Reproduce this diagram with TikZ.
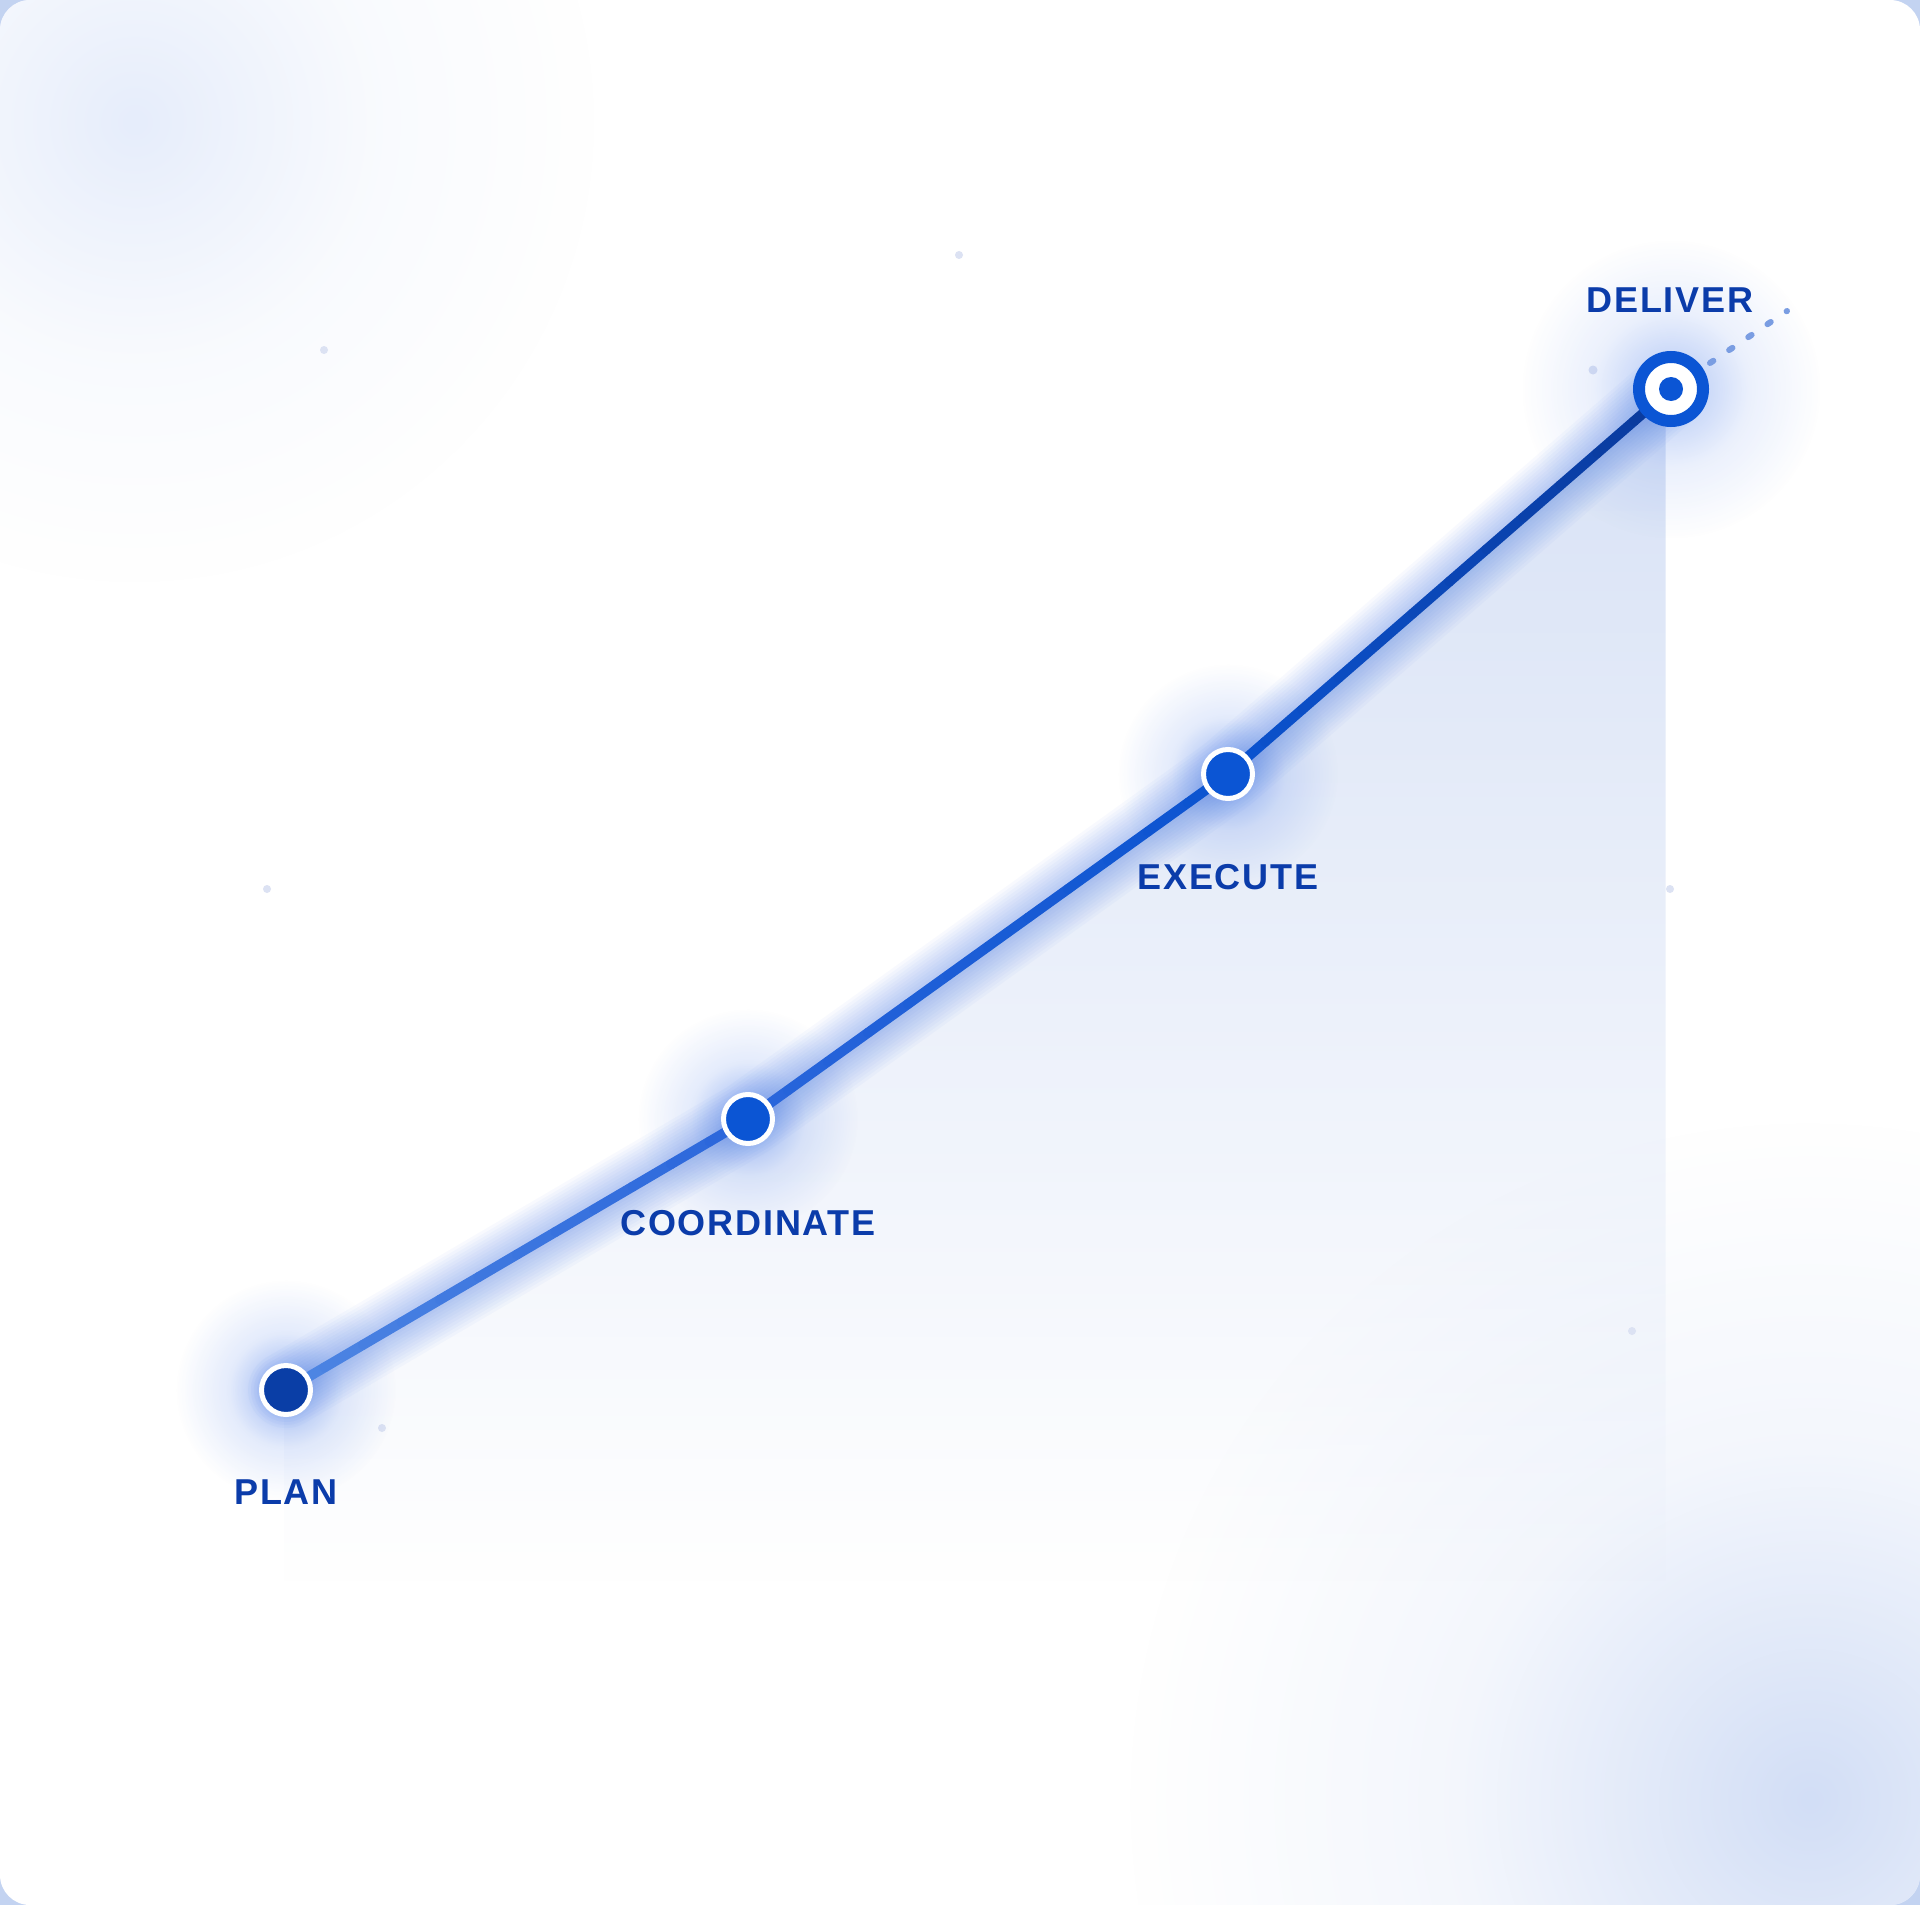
\documentclass[tikz,border=0pt]{standalone}
\usepackage{fontspec}
\newfontfamily\lblfont[LetterSpace=5]{Liberation Sans}
\usetikzlibrary{fadings,calc}
\definecolor{cornerbg}{HTML}{C3D3F1}
\definecolor{tlglow}{HTML}{E6EDFB}
\definecolor{brglow}{HTML}{D2DEF6}
\definecolor{areatop}{HTML}{D8E2F6}
\definecolor{glowblue}{HTML}{3A70E8}
\definecolor{nodeblue}{HTML}{0B55D4}
\definecolor{plannode}{HTML}{0A3EA6}
\definecolor{lblcol}{HTML}{0B3CAA}
\definecolor{dotcol}{HTML}{DCE2F3}
\definecolor{dashcol}{HTML}{7A9DE2}
\definecolor{cA}{HTML}{4F86E3}
\definecolor{cB}{HTML}{2A66DB}
\definecolor{cC}{HTML}{0B53D0}
\definecolor{cD}{HTML}{0A3A9C}
\pgfdeclareradialshading{softglowsh}{\pgfpointorigin}{color(0bp)=(pgftransparent!0); color(5bp)=(pgftransparent!30); color(13bp)=(pgftransparent!75); color(25bp)=(pgftransparent!100); color(50bp)=(pgftransparent!100)}
\pgfdeclarefading{softglow}{\pgfuseshading{softglowsh}}
\tikzset{
  station/.style={circle, fill=nodeblue, draw=white, line width=5, minimum size=49, inner sep=0},
  goalring/.style={circle, fill=white, draw=nodeblue, line width=12, minimum size=64, inner sep=0},
  goaldot/.style={circle, fill=nodeblue, minimum size=24, inner sep=0},
  lbl/.style={text=lblcol, font=\lblfont\bfseries\fontsize{36}{40}\selectfont, inner sep=0, anchor=center},
  speck/.style={fill=dotcol},
  nodeglow/.style={fill=glowblue, path fading=softglow, fill opacity=0.55},
}
\begin{document}
\begin{tikzpicture}[x=1pt,y=-1pt]
\useasboundingbox (0,0) rectangle (1920,1905);
\fill[cornerbg] (0,0) rectangle (1920,1905);
\fill[white, rounded corners=30] (0,0) rectangle (1920,1905);
\begin{scope}
\clip[rounded corners=30] (0,0) rectangle (1920,1905);
\fill[tlglow, path fading=softglow] (135,122) circle (460);
\fill[brglow, path fading=softglow] (1810,1800) circle (680);
\end{scope}
% stations
\coordinate (p1) at (286,1390);
\coordinate (p2) at (748,1119);
\coordinate (p3) at (1228,774);
\coordinate (p4) at (1671,389);
% area under line
\fill[areatop, path fading=south] (p1) -- (p2) -- (p3) -- (p4) -- (1671,1580) -- (286,1580) -- cycle;
% specks
\fill[speck] (959,255) circle (4);
\fill[speck] (324,350) circle (4);
\fill[speck] (267,889) circle (4);
\fill[speck] (1593,370) circle (4.5);
\fill[speck] (1670,889) circle (4);
\fill[speck] (1632,1331) circle (4);
\fill[speck] (382,1428) circle (4);
% glows
\fill[nodeglow] (p1) circle (110);
\fill[nodeglow] (p2) circle (110);
\fill[nodeglow] (p3) circle (110);
\fill[nodeglow, fill opacity=0.4] (p4) circle (150);
\foreach \w in {16,22,...,76} {
  \draw[glowblue, draw opacity=0.035, line width=\w, line cap=round, line join=round] (p1) -- (p2) -- (p3) -- (p4);
}
% main line with gradient
\foreach \a/\b/\ca/\cb in {p1/p2/cA/cB, p2/p3/cB/cC, p3/p4/cC/cD} {
  \foreach \i in {0,...,11} {
    \pgfmathsetmacro\s{\i/12}
    \pgfmathsetmacro\e{(\i+1)/12}
    \pgfmathsetmacro\m{100-100*(\i+0.5)/12}
    \draw[color=\ca!\m!\cb, line width=10, line cap=round] ($(\a)!\s!(\b)$) -- ($(\a)!\e!(\b)$);
  }
}
% dotted extension
\coordinate (dstart) at (1710,363);
\coordinate (dend) at (1787,311);
\draw[dashcol, line width=6, line cap=round, dash pattern=on 4 off 19.1] (dstart) -- (dend);
% nodes
\node[station, fill=plannode] (plan) at (p1) {};
\node[station] (coord) at (p2) {};
\node[station] (exec) at (p3) {};
\node[goalring] (deliver) at (p4) {};
\node[goaldot] (deliverdot) at (p4) {};
% labels
\node[lbl] (lplan) at (286,1492) {PLAN};
\node[lbl] (lcoord) at (748,1223) {COORDINATE};
\node[lbl] (lexec) at (1228,877) {EXECUTE};
\node[lbl] (ldeliver) at (1670,300) {DELIVER};
\end{tikzpicture}
\end{document}
